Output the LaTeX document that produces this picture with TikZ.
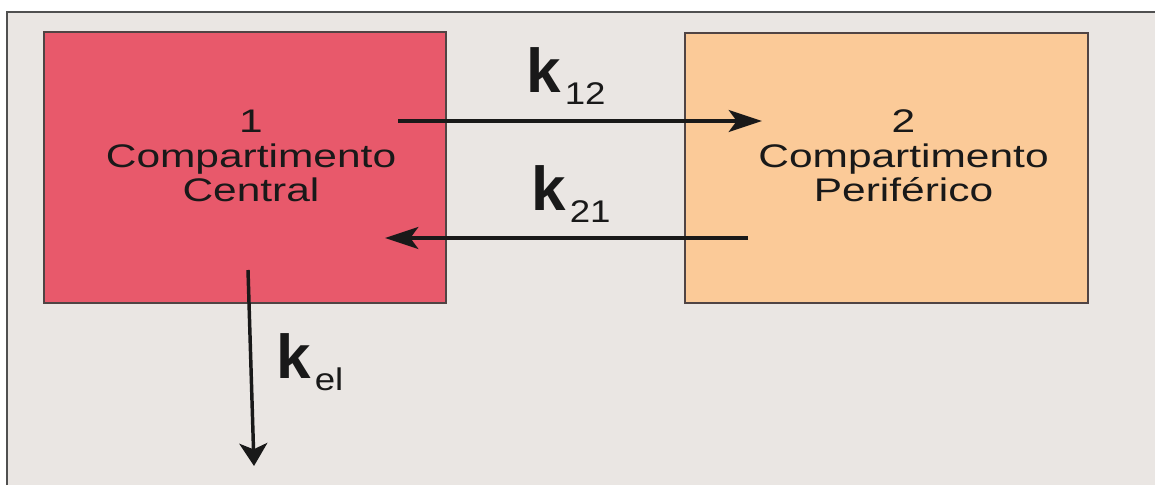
\documentclass[tikz,border=0pt]{standalone}
\usepackage{fontspec}
\usepackage{graphicx}
\setmainfont{Liberation Sans}
\usetikzlibrary{arrows.meta}
\definecolor{bgc}{RGB}{234,230,227}
\definecolor{redc}{RGB}{232,89,107}
\definecolor{peachc}{RGB}{251,202,152}
\definecolor{edgec}{RGB}{80,68,68}
\definecolor{framec}{RGB}{80,80,80}
\definecolor{inkc}{RGB}{25,25,25}
\newcommand{\hstr}[1]{\scalebox{1.3}[1]{#1}}
\newcommand{\klabel}[1]{{\fontsize{46.5}{50}\selectfont\bfseries k}\kern3pt\raisebox{-9pt}{\fontsize{23.5}{25}\selectfont\scalebox{1.17}[1]{#1}}}
\begin{document}
\begin{tikzpicture}[x=0.75pt,y=-0.75pt,
  compbox/.style={draw=edgec, line width=1.3pt, inner sep=0pt},
  comptext/.style={inner sep=0pt, align=center, text=inkc, font=\fontsize{24.5}{26}\selectfont},
  klab/.style={inner sep=0pt, anchor=base west, text=inkc},
  harrow/.style={draw=inkc, line width=2.6pt, -{Stealth[length=25pt,width=16.5pt,inset=6pt]}},
  varrow/.style={draw=inkc, line width=2.6pt, -{Stealth[length=17pt,width=21pt,inset=4.5pt]}}]
\useasboundingbox (0,0) rectangle (1155,485);
\fill[white] (0,0) rectangle (1155,485);
\fill[bgc] (7,12) rectangle (1155,485);
\draw[framec, line width=1.5pt] (7,485) -- (7,12) -- (1155,12);

\node[compbox, fill=redc, minimum width=301.5pt, minimum height=203.25pt] (c1) at (245,167.5) {};
\node[compbox, fill=peachc, minimum width=302.25pt, minimum height=202.5pt] (c2) at (886.5,168) {};

\node[comptext] (t1) at (251,156) {\hstr{1}\\\hstr{Compartimento}\\\hstr{Central}};
\node[comptext] (t2) at (903.5,156) {\hstr{2}\\\hstr{Compartimento}\\\hstr{Periférico}};

\coordinate (a12s) at (398,121);
\coordinate (a12e) at (762,121);
\coordinate (a21s) at (748,238);
\coordinate (a21e) at (385,238);
\coordinate (aels) at (248,270);
\coordinate (aele) at (254,466);

\draw[harrow] (a12s) -- (a12e);
\draw[harrow] (a21s) -- (a21e);
\draw[varrow] (aels) -- (aele);

\node[klab] (k12) at (526,93) {\klabel{12}};
\node[klab] (k21) at (531,210) {\klabel{21}};
\node[klab] (kel) at (276,378) {\klabel{el}};
\end{tikzpicture}
\end{document}
